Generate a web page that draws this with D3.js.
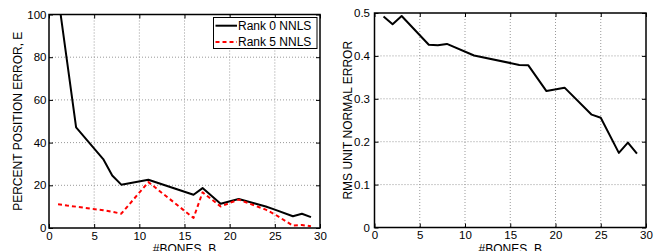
<!DOCTYPE html>
<html><head><meta charset="utf-8">
<script src="https://cdn.jsdelivr.net/npm/d3@7"></script>
<style>
body{margin:0;background:#fff;}
text{font-family:"Liberation Sans",Arial,Helvetica,sans-serif;fill:#000;}
</style></head>
<body><svg id="c" width="654" height="251"></svg>
<script>
// Data
const bones = [1,2,3,6,7,8,11,16,17,19,21,24,25,27,28,29];
const rank0 = [109,78,47.1,32.3,24.6,20.3,22.6,15.6,18.7,11.4,13.6,10.1,8.6,5.5,6.7,5.1];
const rank5 = [11.1,10.5,10.0,8.3,7.6,6.7,21.5,4.7,16.7,10.1,13.3,8.6,6.4,1.1,1.4,0.8];
const rmsNormal = [0.492,0.474,0.493,0.426,0.425,0.428,0.401,0.379,0.378,0.318,0.326,0.263,0.256,0.174,0.198,0.172];
const xTicks = [0,5,10,15,20,25,30];
const yTicksLeft = [0,20,40,60,80,100];
const yTicksRight = [0,0.1,0.2,0.3,0.4,0.5];
const legendLabels = ["Rank 0 NNLS","Rank 5 NNLS"];
const xLabel = "#BONES, B";
const yLabelLeft = "PERCENT POSITION ERROR, E";
const yLabelRight = "RMS UNIT NORMAL ERROR";

const svg = d3.select("#c");

function panel(opts){
  const {left,right,top,bottom,yDomain,yTicks,yFmt,series,yLabel,yLabelX,id,yPad} = opts;
  const x = d3.scaleLinear().domain([0,30]).range([left,right]);
  const y = d3.scaleLinear().domain(yDomain).range([bottom,top]);
  const g = svg.append("g");
  svg.append("defs").append("clipPath").attr("id",id)
    .append("rect").attr("x",left).attr("y",top).attr("width",right-left).attr("height",bottom-top);
  // grid
  g.selectAll(".gx").data(xTicks.slice(1,-1)).join("line")
    .attr("x1",d=>x(d)).attr("x2",d=>x(d)).attr("y1",top).attr("y2",bottom)
    .attr("stroke","#999").attr("stroke-width",1).attr("stroke-dasharray","1,2");
  g.selectAll(".gy").data(yTicks.slice(1,-1)).join("line")
    .attr("y1",d=>y(d)).attr("y2",d=>y(d)).attr("x1",left).attr("x2",right)
    .attr("stroke","#999").attr("stroke-width",1).attr("stroke-dasharray","1,2");
  // lines
  const lg = g.append("g").attr("clip-path",`url(#${id})`);
  series.forEach(s=>{
    const line = d3.line().x((d,i)=>x(bones[i])).y(d=>y(d));
    lg.append("path").datum(s.values).attr("d",line)
      .attr("fill","none").attr("stroke",s.color).attr("stroke-width",2)
      .attr("stroke-dasharray",s.dash||null).attr("stroke-linejoin","round");
  });
  // axes with inward ticks
  const tl = 4;
  const axB = d3.axisBottom(x).tickValues(xTicks).tickSizeInner(-tl).tickSizeOuter(0).tickPadding(3.5).tickFormat(d3.format("d"));
  const axT = d3.axisTop(x).tickValues(xTicks).tickSizeInner(-tl).tickSizeOuter(0).tickFormat("");
  const axL = d3.axisLeft(y).tickValues(yTicks).tickSizeInner(-tl).tickSizeOuter(0).tickPadding(yPad).tickFormat(yFmt);
  const axR = d3.axisRight(y).tickValues(yTicks).tickSizeInner(-tl).tickSizeOuter(0).tickFormat("");
  [[axB,`translate(0,${bottom})`],[axT,`translate(0,${top})`],[axL,`translate(${left},0)`],[axR,`translate(${right},0)`]].forEach(([ax,t])=>{
    const a = g.append("g").attr("transform",t).call(ax);
    a.select(".domain").remove();
    a.selectAll("line").attr("stroke","#000").attr("stroke-width",1);
    a.selectAll("text").attr("font-size","11.5px").attr("font-family","Liberation Sans, Arial, sans-serif").attr("fill","#000");
  });
  // frame
  g.append("rect").attr("x",left).attr("y",top).attr("width",right-left).attr("height",bottom-top)
    .attr("fill","none").attr("stroke","#000").attr("stroke-width",1.5);
  // labels
  g.append("text").attr("x",(left+right)/2).attr("y",252.5).attr("text-anchor","middle")
    .attr("font-size","12px").text(xLabel);
  g.append("text").attr("transform",`translate(${yLabelX},${(top+bottom)/2}) rotate(-90)`)
    .attr("text-anchor","middle").attr("font-size","12px").text(yLabel);
  return {x,y,g};
}

panel({left:49,right:320,top:14.5,bottom:228,yDomain:[0,100],yTicks:yTicksLeft,yFmt:d3.format("d"),
  series:[{values:rank0,color:"#000"},{values:rank5,color:"#ff0000",dash:"4,3"}],
  yLabel:yLabelLeft,yLabelX:22,id:"clipL",yPad:2.5});
panel({left:374.5,right:646,top:13,bottom:227.5,yDomain:[0,0.5],yTicks:yTicksRight,yFmt:d=>d===0?"0":d3.format(".1f")(d),
  series:[{values:rmsNormal,color:"#000"}],
  yLabel:yLabelRight,yLabelX:352,id:"clipR",yPad:4.5});

// legend
const lg = svg.append("g");
lg.append("rect").attr("x",213.5).attr("y",17.5).attr("width",103.5).attr("height",31)
  .attr("fill","#fff").attr("stroke","#000").attr("stroke-width",1);
const legColors = ["#000","#ff0000"], legDash=[null,"4,3"], legY=[25.7,42];
legendLabels.forEach((t,i)=>{
  lg.append("line").attr("x1",215.5).attr("x2",237).attr("y1",legY[i]).attr("y2",legY[i])
    .attr("stroke",legColors[i]).attr("stroke-width",2).attr("stroke-dasharray",legDash[i]);
  lg.append("text").attr("x",238).attr("y",legY[i]+4.3).attr("font-size","12px").text(t);
});
</script></body></html>
